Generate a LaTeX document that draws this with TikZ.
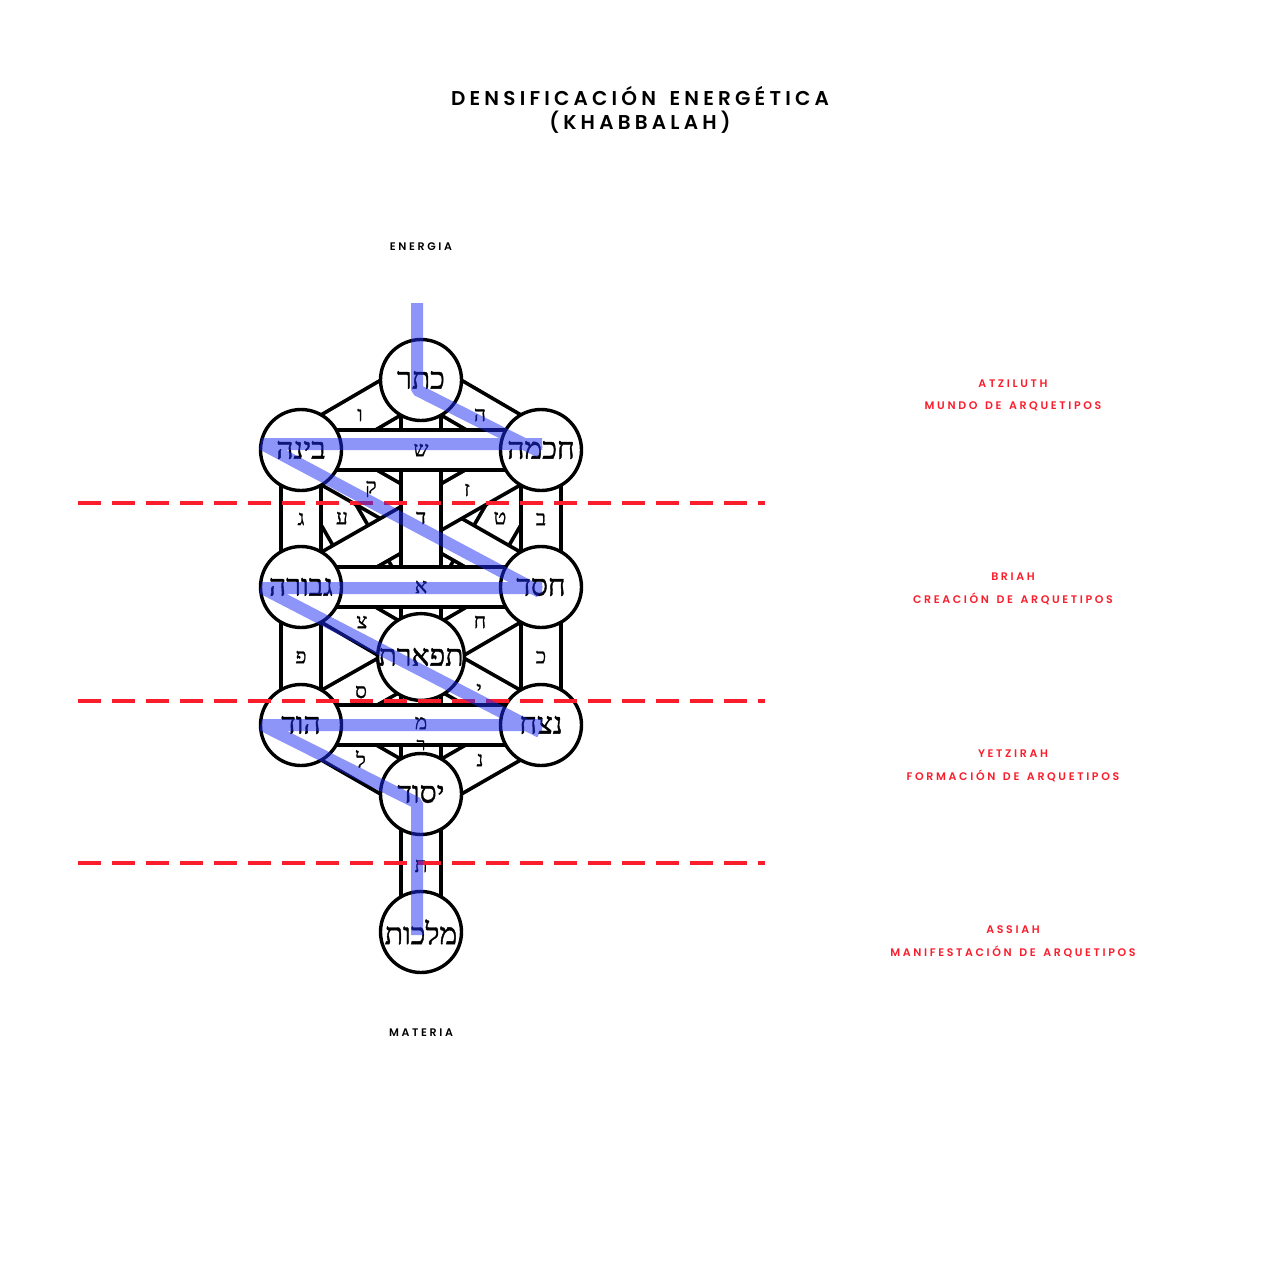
\documentclass[tikz,border=0pt]{standalone}
\usepackage{fontspec}
\setmainfont{Poppins}
\newfontfamily\popsemi{Poppins}[UprightFont=* SemiBold,LetterSpace=24,WordSpace=1.45]
\newfontfamily\poptitle{Poppins}[UprightFont=* SemiBold,LetterSpace=21,WordSpace=1.5]
\newfontfamily\heb[Script=Hebrew,FakeBold=1.3]{Liberation Serif}
\newfontfamily\hebs[Script=Hebrew,FakeBold=1.0]{Liberation Serif}
\TeXXeTstate=1
\definecolor{worldred}{RGB}{250,30,45}
\definecolor{flashblue}{RGB}{30,45,245}
\newcommand\pathband[2]{%
  \draw[line width=44pt,black] (#1) -- (#2);
  \draw[line width=36.5pt,white] (#1) -- (#2);}
\tikzset{
  sefira/.style={circle,draw=black,line width=3.4pt,fill=white,minimum size=81pt,inner sep=0pt,font=\heb\fontsize{30}{30}\selectfont},
  lettr/.style={inner sep=0pt,font=\hebs\fontsize{21}{21}\selectfont},
  worldlbl/.style={text=worldred,font=\popsemi\fontsize{11}{11}\selectfont,inner sep=0pt},
  axislbl/.style={text=black,font=\popsemi\fontsize{11}{11}\selectfont,inner sep=0pt},
  titlelbl/.style={text=black,font=\poptitle\fontsize{20}{20}\selectfont,inner sep=0pt,align=center},
  reddash/.style={draw=worldred,line width=4pt,dash pattern=on 23pt off 11pt},
  flash/.style={draw=flashblue,line width=12pt,line join=bevel}
}
\begin{document}
\begin{tikzpicture}[x=1pt,y=-1pt]
\fill[white] (0,0) rectangle (1280,1280);
\useasboundingbox (0,0) rectangle (1280,1280);
% centres
\coordinate (K) at (421,380);
\coordinate (Ch) at (541,450);
\coordinate (Bi) at (301,450);
\coordinate (Che) at (541,587);
\coordinate (Gev) at (301,587);
\coordinate (Ti) at (421,657);
\coordinate (Ne) at (541,725);
\coordinate (Hod) at (301,725);
\coordinate (Ye) at (421,794);
\coordinate (Ma) at (421,932);
% paths
\pathband{Bi}{Ti} \pathband{Ch}{Ti}
\pathband{Bi}{Che} \pathband{Ch}{Gev}
\pathband{Gev}{Ti} \pathband{Che}{Ti} \pathband{Hod}{Ti} \pathband{Ne}{Ti}
\pathband{K}{Ti} \pathband{Ti}{Ye}
\pathband{K}{Bi} \pathband{K}{Ch}
\pathband{Bi}{Gev} \pathband{Ch}{Che} \pathband{Gev}{Hod} \pathband{Che}{Ne}
\pathband{Hod}{Ye} \pathband{Ne}{Ye}
\pathband{Bi}{Ch} \pathband{Gev}{Che} \pathband{Hod}{Ne}
\pathband{Ye}{Ma}
% path letters
\node[lettr] (l1) at (360,415) {\beginR ו\endR};
\node[lettr] (l2) at (480,415) {\beginR ה\endR};
\node[lettr] (l3) at (421,450) {\beginR ש\endR};
\node[lettr] (l4) at (371,489) {\beginR ק\endR};
\node[lettr] (l5) at (467,490) {\beginR ז\endR};
\node[lettr] (l6) at (301,519) {\beginR ג\endR};
\node[lettr] (l7) at (342,518) {\beginR ע\endR};
\node[lettr] (l8) at (421,518) {\beginR ד\endR};
\node[lettr] (l9) at (500,518) {\beginR ט\endR};
\node[lettr] (l10) at (541,519) {\beginR ב\endR};
\node[lettr] (l11) at (421,587) {\beginR א\endR};
\node[lettr] (l12) at (362,622) {\beginR צ\endR};
\node[lettr] (l13) at (480,622) {\beginR ח\endR};
\node[lettr] (l14) at (301,657) {\beginR פ\endR};
\node[lettr] (l15) at (541,657) {\beginR כ\endR};
\node[lettr] (l16) at (361,692) {\beginR ס\endR};
\node[lettr] (l17) at (479,690) {\beginR י\endR};
\node[lettr] (l18) at (421,723) {\beginR מ\endR};
\node[lettr,font=\hebs\fontsize{18}{18}\selectfont] (l19) at (421,745) {\beginR ר\endR};
\node[lettr] (l20) at (361,759) {\beginR ל\endR};
\node[lettr] (l21) at (480,760) {\beginR נ\endR};
\node[lettr] (l22) at (421,866) {\beginR ת\endR};
% sefirot
\node[sefira] (nK) at (K) {\beginR כתר\endR};
\node[sefira] (nCh) at (Ch) {\beginR חכמה\endR};
\node[sefira] (nBi) at (Bi) {\beginR בינה\endR};
\node[sefira] (nChe) at (Che) {\beginR חסד\endR};
\node[sefira] (nGev) at (Gev) {\beginR גבורה\endR};
\node[sefira] (nTi) at (Ti) {\beginR תפארת\endR};
\node[sefira] (nNe) at (Ne) {\beginR נצח\endR};
\node[sefira] (nHod) at (Hod) {\beginR הוד\endR};
\node[sefira] (nYe) at (Ye) {\beginR יסוד\endR};
\node[sefira] (nMa) at (Ma) {\beginR מלכות\endR};
% world boundaries
\coordinate (d1a) at (78,503); \coordinate (d1b) at (765,503);
\coordinate (d2a) at (78,701); \coordinate (d2b) at (765,701);
\coordinate (d3a) at (78,863); \coordinate (d3b) at (765,863);
\draw[reddash] (d1a) -- (d1b);
\draw[reddash] (d2a) -- (d2b);
\draw[reddash] (d3a) -- (d3b);
% lightning flash
\coordinate (f0) at (417,303);
\begin{scope}[transparency group,opacity=0.5]
\draw[flash] (f0) -- (417,390) -- (540,452);
\draw[flash] (542,444) -- (262,444) -- (540,592);
\draw[flash] (542,588) -- (262,588) -- (540,732);
\draw[flash] (542,725) -- (262,725) -- (417,803) -- (417,935);
\end{scope}
% texts
\node[titlelbl] (title) at (640,110) {DENSIFICACIÓN ENERGÉTICA\\[4pt](KHABBALAH)};
\node[axislbl] (energia) at (421,247) {ENERGIA};
\node[axislbl] (materia) at (421,1033) {MATERIA};
\node[worldlbl] (w1a) at (1013,384) {ATZILUTH};
\node[worldlbl] (w1b) at (1013,406) {MUNDO DE ARQUETIPOS};
\node[worldlbl] (w2a) at (1013,577) {BRIAH};
\node[worldlbl] (w2b) at (1013,599) {CREACIÓN DE ARQUETIPOS};
\node[worldlbl] (w3a) at (1013,754) {YETZIRAH};
\node[worldlbl] (w3b) at (1013,776) {FORMACIÓN DE ARQUETIPOS};
\node[worldlbl] (w4a) at (1013,930) {ASSIAH};
\node[worldlbl] (w4b) at (1013,952) {MANIFESTACIÓN DE ARQUETIPOS};
\end{tikzpicture}
\end{document}
